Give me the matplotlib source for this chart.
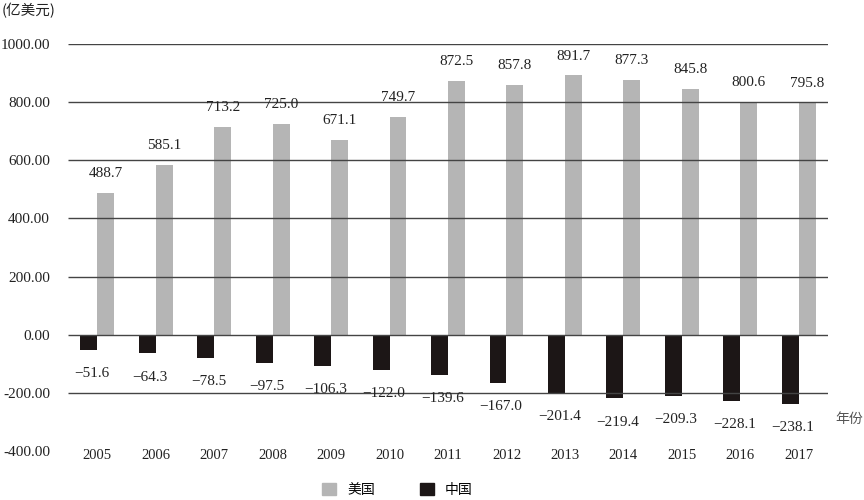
import numpy as np
import matplotlib.pyplot as plt
from matplotlib.patches import Patch

# 数据
years = ['2005', '2006', '2007', '2008', '2009', '2010', '2011', '2012',
         '2013', '2014', '2015', '2016', '2017']
usa = [488.7, 585.1, 713.2, 725.0, 671.1, 749.7, 872.5, 857.8,
       891.7, 877.3, 845.8, 800.6, 795.8]
china = [-51.6, -64.3, -78.5, -97.5, -106.3, -122.0, -139.6, -167.0,
         -201.4, -219.4, -209.3, -228.1, -238.1]
yticks = [1000, 800, 600, 400, 200, 0, -200, -400]

num_font = ['Liberation Serif', 'Noto Sans CJK SC']
cjk_font = ['Noto Sans CJK SC', 'DejaVu Sans']

fig = plt.figure(figsize=(8.64, 5), dpi=100)
ax = fig.add_axes([68 / 864, 1 - 451 / 500, 760 / 864, 407 / 500])

x = np.arange(len(years))
w = 0.29
gray = '#b5b5b5'
black = '#1c1616'

ax.bar(x - w / 2, china, w, color=black, zorder=1)
ax.bar(x + w / 2, usa, w, color=gray, zorder=1)

# 网格线（画在柱子上面）
ax.hlines(yticks[:-1], -0.5, len(years) - 0.5, color='#444444',
          linewidth=1.0, zorder=2)

for i in range(len(years)):
    ax.annotate(f'{usa[i]:.1f}', (x[i] + w / 2, usa[i]), xytext=(0, 14),
                textcoords='offset points', ha='center', va='center',
                fontsize=11, family=num_font, color='#222222')
    ax.annotate(f'−{abs(china[i]):.1f}', (x[i] - w / 2, china[i]), xytext=(2, -17),
                textcoords='offset points', ha='center', va='center',
                fontsize=11, family=num_font, color='#222222')
    ax.annotate(years[i], (x[i], -400), xytext=(0, -3),
                textcoords='offset points', ha='center', va='center',
                fontsize=10.5, family=num_font, color='#222222')

ax.set_xlim(-0.5, len(years) - 0.5)
ax.set_ylim(-400, 1000)
ax.set_yticks(yticks)
ax.set_yticklabels([f'{v:.2f}' for v in yticks], family=num_font,
                   fontsize=11, color='#222222')
ax.tick_params(axis='y', length=0, pad=13)
ax.set_xticks([])
for s in ax.spines.values():
    s.set_visible(False)

fig.text(0.002, 0.978, '(亿美元)', family=cjk_font, fontsize=10.5,
         ha='left', va='center', color='#222222')
fig.text(0.967, 0.162, '年份', family=cjk_font, fontsize=10,
         ha='left', va='center', color='#555555')

handles = [Patch(color=gray), Patch(color=black)]
fig.legend(handles, ['美国', '中国'], loc='center', bbox_to_anchor=(0.46, 0.02),
           ncol=2, frameon=False, prop={'family': cjk_font, 'size': 10},
           handlelength=1.0, handleheight=1.0, columnspacing=3.2,
           handletextpad=0.8)

fig.savefig('out.png', dpi=100)
